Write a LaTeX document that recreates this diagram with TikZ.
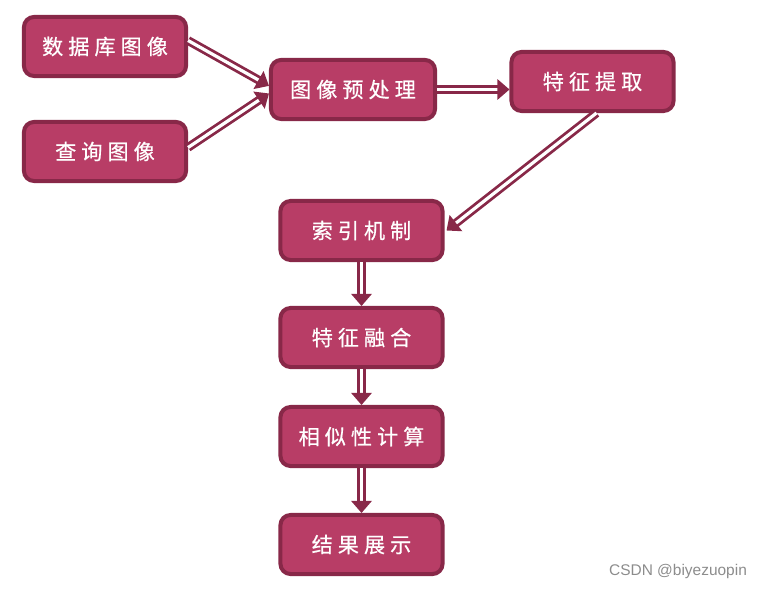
\documentclass[tikz,border=0pt]{standalone}
\usepackage{fontspec}
\usepackage{tikz}
\usetikzlibrary{arrows.meta}
\newfontfamily\cjk[LetterSpace=24,FakeBold=0.6]{Noto Sans CJK SC}
\newfontfamily\wmfont{Liberation Sans}
\definecolor{boxfill}{RGB}{184,61,102}
\definecolor{boxline}{RGB}{136,40,72}
\tikzset{
  stepbox/.style={draw=boxline, fill=boxfill, line width=0.1cm, rounded corners=0.25cm,
    minimum width=4.05cm, minimum height=1.475cm, inner sep=0pt,
    text=white, font=\cjk\fontsize{15}{18}\selectfont},
  flow/.style={draw=boxline, double=white, line width=0.07cm, double distance=0.08cm,
    -{Triangle[length=0.3cm,width=0.5cm]}}
}
\begin{document}
\begin{tikzpicture}[x=0.025cm, y=-0.025cm]
    \useasboundingbox (0,0) rectangle (760,589);

    % inputs
    \node [stepbox] (db) at (105,46.5) {数据库图像};
    \node [stepbox] (query) at (105,151.5) {查询图像};

    % top row
    \node [stepbox, minimum width=4.1cm] (pre) at (353,89.5) {图像预处理};
    \node [stepbox] (feat) at (592.5,81.5) {特征提取};

    % column
    \node [stepbox] (index) at (361.5,230.5) {索引机制};
    \node [stepbox] (fuse) at (361.5,337.5) {特征融合};
    \node [stepbox] (sim) at (361.5,436.5) {相似性计算};
    \node [stepbox] (result) at (361.5,544.5) {结果展示};

    % arrows
    \draw [flow] ([yshift=0.15cm]db.east) -- ([yshift=0.09cm]pre.west);
    \draw [flow] ([yshift=0.1cm]query.east) -- ([yshift=-0.1cm]pre.west);
    \draw [flow] (pre.east) -- (pre.east -| feat.west);
    \draw [flow] ([xshift=0.1cm]feat.south) -- ([xshift=0.05cm]index.east);
    \draw [flow] (index) -- (fuse);
    \draw [flow] (fuse) -- (sim);
    \draw [flow] (sim) -- (result);

    % watermark
    \node [text=black!45, font=\wmfont\fontsize{11}{13}\selectfont] (mark) at (678,571) {CSDN @biyezuopin};
\end{tikzpicture}
\end{document}
